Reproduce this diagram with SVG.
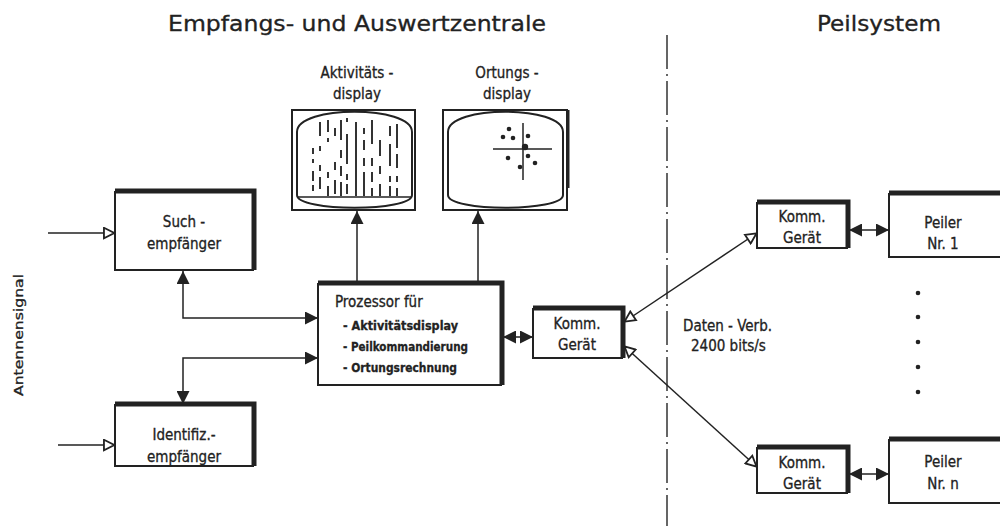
<svg xmlns="http://www.w3.org/2000/svg" width="1000" height="526" viewBox="0 0 1000 526">
<style>
text{font-family:"DejaVu Sans Condensed","DejaVu Sans",sans-serif;fill:#222;stroke:#222;stroke-width:0.3}
.t{font-size:15px;text-anchor:middle}
.h{font-size:22px;text-anchor:middle}
.b{font-size:13px;font-weight:bold}
.box{fill:#fff;stroke:#222;stroke-width:2}
.sh{fill:none;stroke:#222;stroke-width:5;stroke-linejoin:miter}
.c{fill:none;stroke:#222;stroke-width:1.5}
.scr{fill:none;stroke:#222;stroke-width:2}
.dl{stroke:#333;stroke-width:2}
</style>
<defs>
<marker id="fa" viewBox="0 0 10 10" refX="10" refY="5" markerWidth="15" markerHeight="13" markerUnits="userSpaceOnUse" orient="auto-start-reverse"><path d="M0,0 L10,5 L0,10 z" fill="#222"/></marker>
<marker id="oa" viewBox="0 0 10 10" refX="9.5" refY="5" markerWidth="15" markerHeight="13" markerUnits="userSpaceOnUse" orient="auto-start-reverse"><path d="M1,1 L9,5 L1,9 z" fill="#fff" stroke="#222" stroke-width="1.4"/></marker>
</defs>
<rect width="1000" height="526" fill="#fff"/>

<g id="titles">
<text class="h" x="357" y="31" textLength="378" lengthAdjust="spacingAndGlyphs">Empfangs- und Auswertzentrale</text>
<text class="h" x="879" y="31" textLength="124" lengthAdjust="spacingAndGlyphs">Peilsystem</text>
<text x="0" y="0" transform="translate(23,335) rotate(-90)" style="font-size:12px;text-anchor:middle" textLength="122" lengthAdjust="spacingAndGlyphs">Antennensignal</text>
</g>

<line x1="667" y1="35" x2="667" y2="526" stroke="#555" stroke-width="1.8" stroke-dasharray="34 5 2 5"/>

<g id="connectors">
<line class="c" x1="48" y1="233" x2="115" y2="233" marker-end="url(#oa)"/>
<line class="c" x1="58" y1="445" x2="115" y2="445" marker-end="url(#oa)"/>
<path class="c" d="M318,318 H183 V271" marker-start="url(#fa)" marker-end="url(#fa)"/>
<path class="c" d="M318,358 H183 V404" marker-start="url(#fa)" marker-end="url(#fa)"/>
<line class="c" x1="357" y1="283" x2="357" y2="211" marker-end="url(#fa)"/>
<line class="c" x1="478" y1="283" x2="478" y2="211" marker-end="url(#fa)"/>
<line class="c" x1="503" y1="337" x2="533" y2="337" marker-start="url(#fa)" marker-end="url(#fa)"/>
<line class="c" x1="624" y1="322" x2="757" y2="233" marker-start="url(#oa)" marker-end="url(#oa)"/>
<line class="c" x1="624" y1="346" x2="757" y2="467" marker-start="url(#oa)" marker-end="url(#oa)"/>
<line class="c" x1="849" y1="230" x2="889" y2="230" marker-start="url(#fa)" marker-end="url(#fa)"/>
<line class="c" x1="849" y1="474" x2="889" y2="474" marker-start="url(#fa)" marker-end="url(#fa)"/>
</g>

<g id="aktivitaets-display">
<text class="t" x="357" y="78">Aktivitäts -</text>
<text class="t" x="357" y="99">display</text>
<rect class="box" x="292" y="110" width="123" height="100"/>
<path class="scr" d="M297,132 C297,105 412,105 412,132 L412,195 C412,212 297,212 297,195 Z"/>
<line x1="298" y1="197" x2="411" y2="197" stroke="#222" stroke-width="1.5"/>
<g class="dl">
<line x1="313" y1="148" x2="313" y2="196" stroke-dasharray="6 5 4 8 10 4"/>
<line x1="320" y1="122" x2="320" y2="196" stroke-dasharray="14 10 5 14 6 6 12"/>
<line x1="328" y1="120" x2="328" y2="196" stroke-dasharray="12 6 4 30 6 8 10"/>
<line x1="335" y1="128" x2="335" y2="196" stroke-dasharray="8 26 8 10 14"/>
<line x1="341" y1="120" x2="341" y2="196" stroke-dasharray="20 10 8 8 10 6 14"/>
<line x1="347" y1="118" x2="347" y2="196" stroke-dasharray="4 12 30 10 6 4 10"/>
<line x1="356" y1="122" x2="356" y2="196" stroke-dasharray="74"/>
<line x1="364" y1="128" x2="364" y2="196" stroke-dasharray="6 6 10 8 8 6 24"/>
<line x1="372" y1="120" x2="372" y2="196" stroke-dasharray="24 14 8 6 10 6 8"/>
<line x1="380" y1="140" x2="380" y2="196" stroke-dasharray="16 10 8 10 12"/>
<line x1="390" y1="126" x2="390" y2="196" stroke-dasharray="10 8 22 10 6 4 10"/>
<line x1="397" y1="124" x2="397" y2="196" stroke-dasharray="24 6 14 8 6 6 8"/>
</g>
</g>

<g id="ortungs-display">
<text class="t" x="507" y="78">Ortungs -</text>
<text class="t" x="507" y="99">display</text>
<rect class="box" x="443" y="110" width="124" height="100"/>
<line x1="568" y1="110" x2="568" y2="188" stroke="#222" stroke-width="3"/>
<path class="scr" d="M448,132 C448,105 563,105 563,132 L563,195 C563,212 448,212 448,195 Z"/>
<line x1="493" y1="149" x2="552" y2="149" stroke="#222" stroke-width="1.5"/>
<line x1="523" y1="123" x2="523" y2="180" stroke="#222" stroke-width="1.5"/>
<g fill="#222">
<circle cx="509" cy="129" r="2.3"/><circle cx="503" cy="137" r="2.3"/><circle cx="513" cy="138" r="2.3"/>
<circle cx="528" cy="136" r="2.3"/><circle cx="525" cy="147" r="3.2"/><circle cx="508" cy="158" r="2.3"/>
<circle cx="528" cy="156" r="2.3"/><circle cx="535" cy="163" r="2.3"/><circle cx="520" cy="167" r="2.3"/>
</g>
</g>

<g id="such-empfaenger">
<rect class="box" x="115" y="192" width="138" height="78"/>
<path class="sh" d="M115,191 H254 V270"/>
<text class="t" x="184" y="227">Such  -</text>
<text class="t" x="184" y="249">empfänger</text>
</g>

<g id="identifiz-empfaenger">
<rect class="box" x="115" y="405" width="138" height="61"/>
<path class="sh" d="M115,404 H254 V466"/>
<text class="t" x="184" y="440">Identifiz.-</text>
<text class="t" x="184" y="462">empfänger</text>
</g>

<g id="prozessor">
<rect class="box" x="318" y="284" width="183" height="101"/>
<path class="sh" d="M318,283 H502 V385"/>
<text x="335" y="307" style="font-size:15px">Prozessor für</text>
<text class="b" x="343" y="330" textLength="115" lengthAdjust="spacingAndGlyphs">- Aktivitätsdisplay</text>
<text class="b" x="343" y="351" textLength="125" lengthAdjust="spacingAndGlyphs">- Peilkommandierung</text>
<text class="b" x="343" y="372" textLength="114" lengthAdjust="spacingAndGlyphs">- Ortungsrechnung</text>
</g>

<g id="komm-zentral">
<rect class="box" x="533" y="309" width="89" height="49"/>
<path class="sh" d="M533,308 H623 V358"/>
<text class="t" x="577" y="329">Komm.</text>
<text class="t" x="577" y="350">Gerät</text>
</g>

<g id="komm-1">
<rect class="box" x="757" y="203" width="90" height="45"/>
<path class="sh" d="M757,202 H848 V248"/>
<text class="t" x="802" y="222">Komm.</text>
<text class="t" x="802" y="243">Gerät</text>
</g>

<g id="peiler-1">
<rect class="box" x="889" y="194" width="115" height="63"/>
<path class="sh" d="M889,193 H1004"/>
<text class="t" x="943" y="228">Peiler</text>
<text class="t" x="943" y="249">Nr. 1</text>
</g>

<g id="komm-n">
<rect class="box" x="757" y="448" width="90" height="45"/>
<path class="sh" d="M757,447 H848 V493"/>
<text class="t" x="802" y="468">Komm.</text>
<text class="t" x="802" y="489">Gerät</text>
</g>

<g id="peiler-n">
<rect class="box" x="889" y="440" width="115" height="63"/>
<path class="sh" d="M889,439 H1004"/>
<text class="t" x="943" y="467">Peiler</text>
<text class="t" x="943" y="489">Nr. n</text>
</g>

<g id="daten-verb">
<text x="683" y="331" style="font-size:15px">Daten  -  Verb.</text>
<text x="691" y="351" style="font-size:15px">2400 bits/s</text>
</g>

<g id="dots" fill="#222">
<circle cx="918" cy="293" r="2.3"/><circle cx="918" cy="317" r="2.3"/><circle cx="918" cy="342" r="2.3"/><circle cx="918" cy="367" r="2.3"/><circle cx="918" cy="392" r="2.3"/>
</g>
</svg>
